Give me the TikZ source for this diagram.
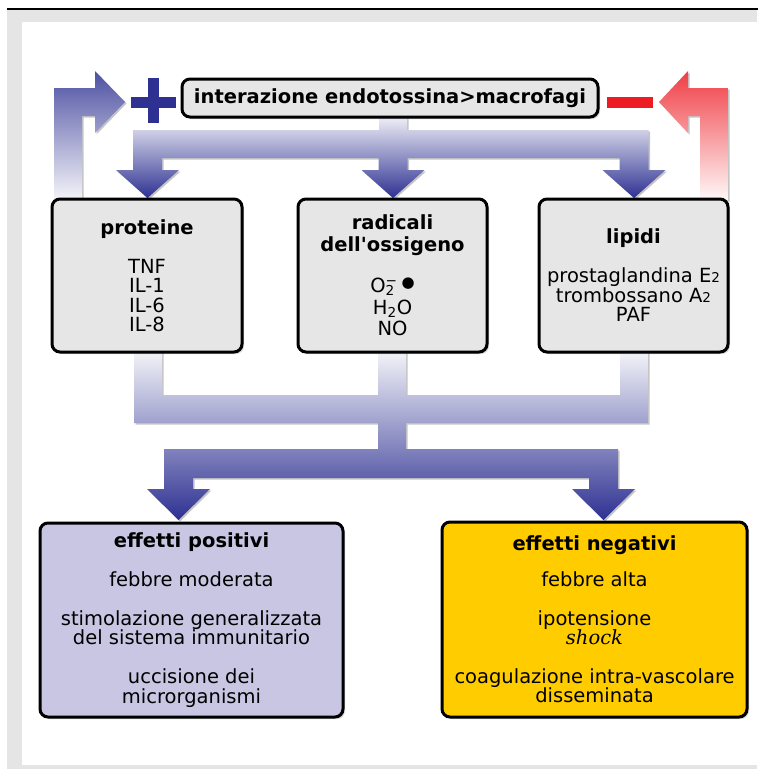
\documentclass[tikz,border=0pt]{standalone}
\usepackage{fontspec}
\setmainfont{DejaVu Sans}[Ligatures=TeXOff]
\newfontfamily\serifit{DejaVu Serif}
\usetikzlibrary{shadows}
\definecolor{navy}{HTML}{2E3192}
\definecolor{boxgray}{HTML}{E6E6E6}
\definecolor{lavender}{HTML}{C8C6E2}
\definecolor{amber}{HTML}{FFCC00}
\definecolor{alarm}{HTML}{ED1C24}
\definecolor{framegray}{HTML}{E5E5E5}
\newcommand{\lowtwo}{{\fontsize{13.5}{13.5}\selectfont 2}}

\begin{document}
\begin{tikzpicture}[x=1pt, y=-1pt,
        font=\fontsize{19.5}{19.5}\selectfont,
        box/.style={draw, line width=3pt, rounded corners=8pt, fill=boxgray, align=center, inner sep=0pt,
                drop shadow={shadow xshift=2pt, shadow yshift=-2pt, opacity=0.3}},
        blockarrow/.style={drop shadow={shadow xshift=1.5pt, shadow yshift=-1.5pt, opacity=0.45}},
    ]
    \useasboundingbox (0,0) rectangle (758,769);

    % Frame
    \fill[framegray] (7,10) rectangle (757,769);
    \fill[white] (22,22) rectangle (758,765);
    \draw[line width=2pt] (7,9) -- (758,9);

    % Feedback arrows
    \shade[blockarrow, top color=navy!85, bottom color=navy!5]
        (54,200) -- (54,88) -- (95,88) -- (95,71) -- (125,102) -- (95,133) -- (95,116) -- (82,116) -- (82,200) -- cycle;
    \shade[blockarrow, top color=alarm!85, bottom color=alarm!3]
        (728,200) -- (728,88) -- (688,88) -- (688,71) -- (659,102) -- (688,133) -- (688,116) -- (700,116) -- (700,200) -- cycle;
    \fill[navy] (131,97) rectangle (176,108);
    \fill[navy] (148,78) rectangle (159,123);
    \fill[alarm] (607,97) rectangle (653,108);

    % Split towards the three mediators
    \shade[blockarrow, top color=navy!8, bottom color=navy]
        (379,117) -- (407,117) -- (407,144) -- (379,144) -- cycle
        (133,130) -- (648.5,130) -- (648.5,158) -- (133,158) -- cycle
        \foreach \c in {147.5,393,634} {
            (\c-14.5,150) -- (\c+14.5,150) -- (\c+14.5,170) -- (\c+31.5,170) -- (\c,198) -- (\c-31.5,170) -- (\c-14.5,170) -- cycle
        };

    % Merge towards the effects
    \shade[blockarrow, top color=navy!5, bottom color=navy]
        \foreach \c in {148,392,634} {
            (\c-14,350) -- (\c+14,350) -- (\c+14,423) -- (\c-14,423) -- cycle
        }
        (134,395) -- (648,395) -- (648,423) -- (134,423) -- cycle
        (378,420) -- (406,420) -- (406,452) -- (378,452) -- cycle
        (164,449) -- (618,449) -- (618,478) -- (164,478) -- cycle
        \foreach \c in {178.5,603.5} {
            (\c-14.5,470) -- (\c+14.5,470) -- (\c+14.5,489) -- (\c+31.5,489) -- (\c,520) -- (\c-31.5,489) -- (\c-14.5,489) -- cycle
        };

    % Boxes
    \node[box, minimum width=416, minimum height=38] (endo) at (390,98) {\bfseries interazione endotossina>macrofagi};

    \node[box, minimum width=190, minimum height=153] (prot) at (147,275.5)
        {{\bfseries proteine}\\[19.5pt] TNF\\ IL-1\\ IL-6\\ IL-8};
    \node[box, minimum width=189, minimum height=153] (rad) at (392.5,275.5)
        {{\bfseries radicali}\\[2pt] {\bfseries dell'ossigeno}\\[22pt]
         O\rlap{\textsubscript{2}}\textsuperscript{−}\hspace{4pt}\raisebox{5pt}{\fontsize{15}{15}\selectfont ●}\\[2pt]
         H\textsubscript{2}O\\[2pt] NO};
    \node[box, minimum width=189, minimum height=153] (lip) at (633.5,275.5)
        {{\bfseries lipidi}\\[19.5pt] prostaglandina E\lowtwo\\ trombossano A\lowtwo\\ PAF};

    \node[box, fill=lavender, minimum width=303, minimum height=194] (pos) at (191.5,620)
        {{\bfseries effetti positivi}\\[19.5pt] febbre moderata\\[19.5pt]
         stimolazione generalizzata\\ del sistema immunitario\\[19.5pt] uccisione dei\\ microrganismi};
    \node[box, fill=amber, minimum width=305, minimum height=195] (neg) at (594.5,619.5)
        {{\bfseries effetti negativi}\\[16pt] febbre alta\\[19.5pt] ipotensione\\ {\serifit\itshape shock}\\[19pt]
         coagulazione intra-vascolare\\ disseminata};
\end{tikzpicture}
\end{document}
